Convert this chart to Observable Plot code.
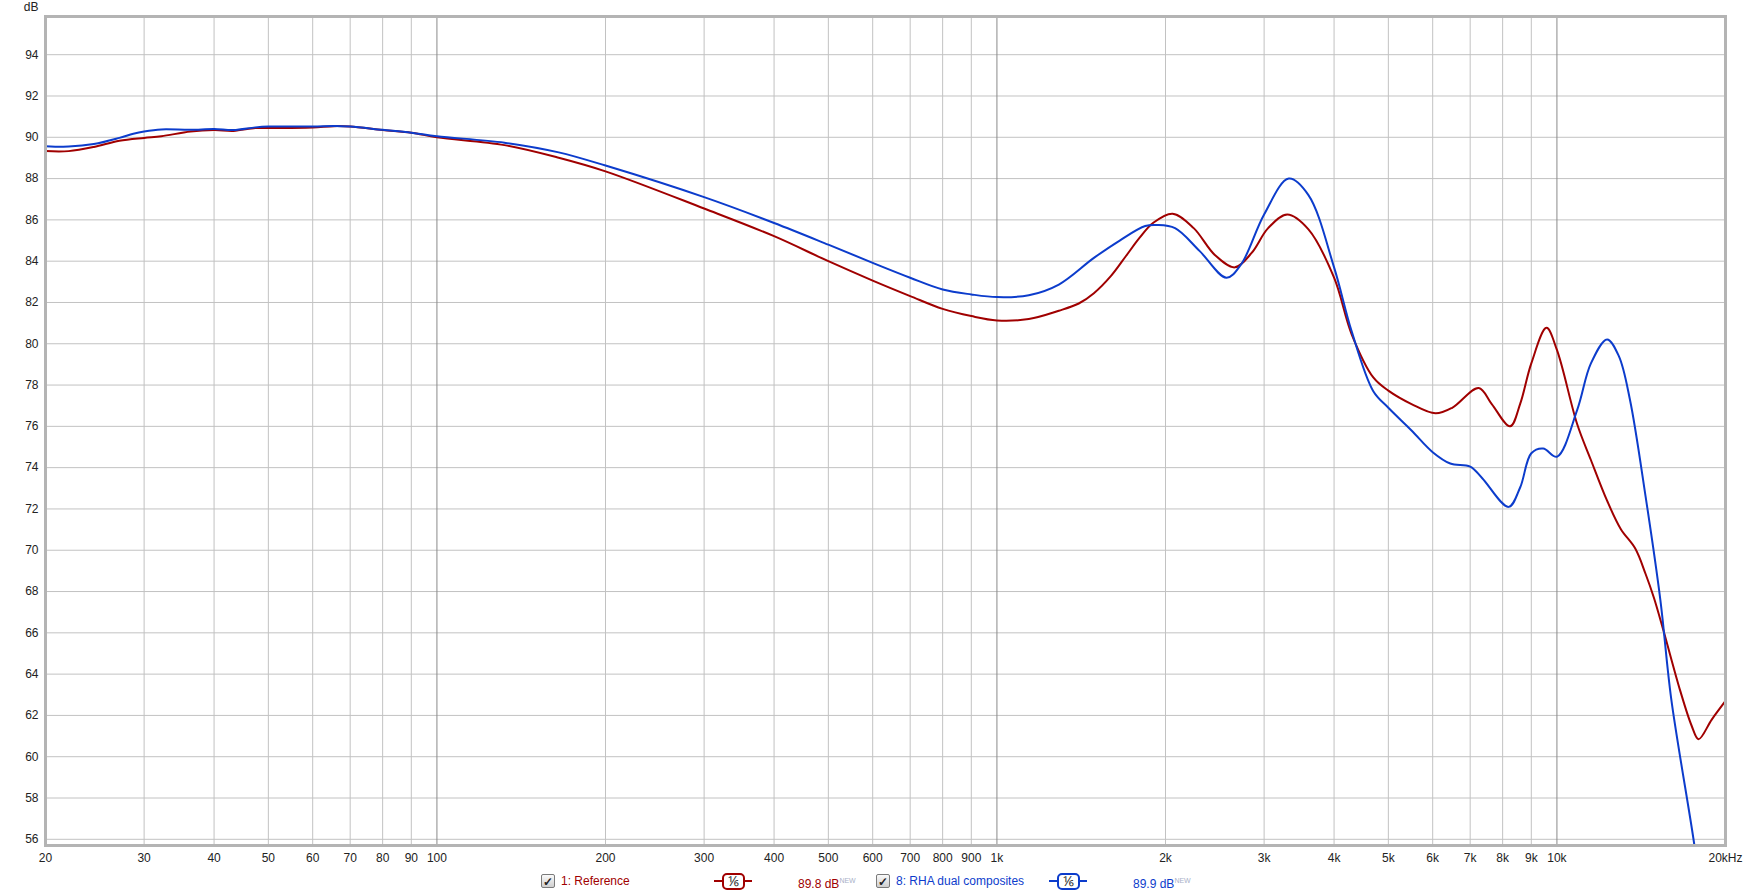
<!DOCTYPE html>
<html><head><meta charset="utf-8">
<script src="https://cdn.jsdelivr.net/npm/d3@7"></script>
<script src="https://cdn.jsdelivr.net/npm/@observablehq/plot@0.6"></script>
<style>
body{margin:0;background:#fff;font-family:"Liberation Sans",Arial,sans-serif;}
#chart{width:1747px;height:870px;}
#legend{position:relative;width:1747px;height:26px;font-size:12px;font-family:"Liberation Sans",Arial,sans-serif;}
#legend .it{position:absolute;top:4px;line-height:14px;white-space:nowrap;}
.cb{width:12px;height:12px;border:1px solid #7a7a7a;border-radius:2px;background:linear-gradient(#fafafa,#cfcfcf);color:#222;font-size:12px;font-weight:bold;text-align:center;line-height:12px;}
.sm{width:38px;height:16px;top:3px !important;}
.sm .ln{position:absolute;left:0;right:0;top:7px;height:2px;}
.sm .bx{position:absolute;left:8px;width:19px;height:13px;top:0;border:2px solid;border-radius:5px;background:#fff;color:#333;font-size:14px;line-height:13px;text-align:center;}
.nw{font-size:7px;vertical-align:5px;color:#a8b0c8;}
</style></head><body>
<div id="chart"></div>
<div id="legend"></div>
<script>
const seriesNames = ["1: Reference", "8: RHA dual composites"];
const seriesColors = ["#a00000", "#0c3ccc"];
const seriesLevels = ["89.8 dB", "89.9 dB"];

const refFreq = [20,22,24.4,27.1,30,32.2,36.3,40,43.3,47.4,50,60,65.5,70,80,90,100,132,165,200,300,400,500,600,700,800,900,1000,1140,1290,1400,1490,1600,1700,1800,1900,2060,2246,2450,2660,2850,3050,3300,3600,4000,4300,4700,5000,5500,6070,6500,7250,7650,8250,8600,9000,9580,10000,10870,11500,12290,13000,13800,14400,14900,15500,16600,17400,17900,18900,20000];
const refDb = [89.33,89.33,89.53,89.83,89.97,90.05,90.28,90.35,90.31,90.45,90.45,90.48,90.54,90.52,90.35,90.22,90.0,89.62,89.01,88.35,86.55,85.21,84.0,83.06,82.31,81.69,81.34,81.13,81.2,81.6,81.95,82.45,83.3,84.25,85.15,85.85,86.3,85.6,84.3,83.7,84.4,85.6,86.26,85.54,83.2,80.46,78.37,77.73,77.08,76.63,76.9,77.86,77.08,76.0,77.1,79.05,80.77,79.7,76.1,74.37,72.4,71.03,70.08,68.85,67.7,66.1,63.2,61.5,60.85,61.8,62.7];

const rhaFreq = [20,22,24.4,27.1,28.7,30,32.2,36.3,40,43.3,47.4,50,60,65.5,70,80,90,100,132,165,200,300,400,500,600,700,800,900,1000,1140,1290,1490,1657,1840,1930,2080,2300,2570,2730,3000,3320,3600,4000,4300,4700,5000,5500,6000,6450,7000,7350,8200,8600,9000,9450,10000,10870,11500,12290,12900,13500,14400,15300,16000,17600,17900];
const rhaDb = [89.57,89.55,89.67,89.97,90.17,90.28,90.38,90.36,90.4,90.35,90.48,90.52,90.52,90.55,90.52,90.36,90.22,90.05,89.74,89.27,88.63,87.1,85.85,84.8,83.92,83.2,82.63,82.39,82.26,82.35,82.87,84.16,85.0,85.7,85.75,85.6,84.5,83.2,83.85,86.26,88.0,87.2,83.7,80.6,77.7,76.9,75.8,74.75,74.2,74.05,73.5,72.1,73.05,74.7,74.93,74.53,76.8,79.05,80.21,79.4,77.3,72.6,67.6,62.8,55.7,54.0];

const xTicks = [20,30,40,50,60,70,80,90,100,200,300,400,500,600,700,800,900,1000,2000,3000,4000,5000,6000,7000,8000,9000,10000,20000];
const xTickLabels = ["20","30","40","50","60","70","80","90","100","200","300","400","500","600","700","800","900","1k","2k","3k","4k","5k","6k","7k","8k","9k","10k","20kHz"];
const decadeTicks = [100,1000,10000];
const yTicks = [56,58,60,62,64,66,68,70,72,74,76,78,80,82,84,86,88,90,92,94];

const rows = [];
refFreq.forEach((f,i)=>rows.push({series: seriesNames[0], f, db: refDb[i]}));
rhaFreq.forEach((f,i)=>rows.push({series: seriesNames[1], f, db: rhaDb[i]}));
const labelOf = new Map(xTicks.map((t,i)=>[t, xTickLabels[i]]));
const minorTicks = xTicks.filter(t => !decadeTicks.includes(t));

const chart = Plot.plot({
  width: 1747, height: 870,
  marginLeft: 45, marginRight: 22, marginTop: 16, marginBottom: 25,
  style: {fontFamily: "'Liberation Sans', Arial, sans-serif", fontSize: "12px", color: "#222", background: "#fff"},
  x: {type: "log", domain: [20, 20000], label: null, axis: null},
  y: {domain: [55.7, 95.85], label: null},
  color: {domain: seriesNames, range: seriesColors},
  marks: [
    Plot.ruleY(yTicks, {stroke: "#c2c2c2", strokeWidth: 1}),
    Plot.ruleX(minorTicks, {stroke: "#c2c2c2", strokeWidth: 1}),
    Plot.ruleX(decadeTicks, {stroke: "#8a8a8a", strokeWidth: 1}),
    Plot.line(rows, {x: "f", y: "db", z: "series", stroke: "series", curve: "catmull-rom", strokeWidth: 2, clip: true}),
    Plot.frame({stroke: "#b4b4b4", strokeWidth: 3}),
    Plot.text(xTicks, {x: d => d, text: d => labelOf.get(d), frameAnchor: "bottom", dy: 13, lineAnchor: "middle", fill: "#222"}),
    Plot.axisY(yTicks, {tickSize: 0, tickPadding: 7, fill: "#222"}),
    Plot.text(["dB"], {frameAnchor: "top-left", dx: -7, dy: -9, textAnchor: "end", lineAnchor: "middle", fill: "#222"})
  ]
});
document.getElementById("chart").appendChild(chart);

// legend
const lg = document.getElementById("legend");
const legendStarts = [541, 876];
seriesNames.forEach((name, i) => {
  const x0 = legendStarts[i];
  const c = seriesColors[i];
  const cb = document.createElement("div");
  cb.className = "it cb"; cb.style.left = x0 + "px"; cb.textContent = "\u2713";
  lg.appendChild(cb);
  const t = document.createElement("div");
  t.className = "it"; t.style.left = (x0 + 20) + "px"; t.style.color = c; t.textContent = name;
  lg.appendChild(t);
  const sm = document.createElement("div");
  sm.className = "it sm"; sm.style.left = (x0 + 173) + "px";
  sm.innerHTML = `<div class="ln" style="background:${c}"></div><div class="bx" style="border-color:${c}">\u2159</div>`;
  lg.appendChild(sm);
  const lv = document.createElement("div");
  lv.className = "it"; lv.style.left = (x0 + 257) + "px"; lv.style.color = c;
  lv.innerHTML = `${seriesLevels[i]}<span class="nw">NEW</span>`;
  lg.appendChild(lv);
});
</script>
</body></html>
